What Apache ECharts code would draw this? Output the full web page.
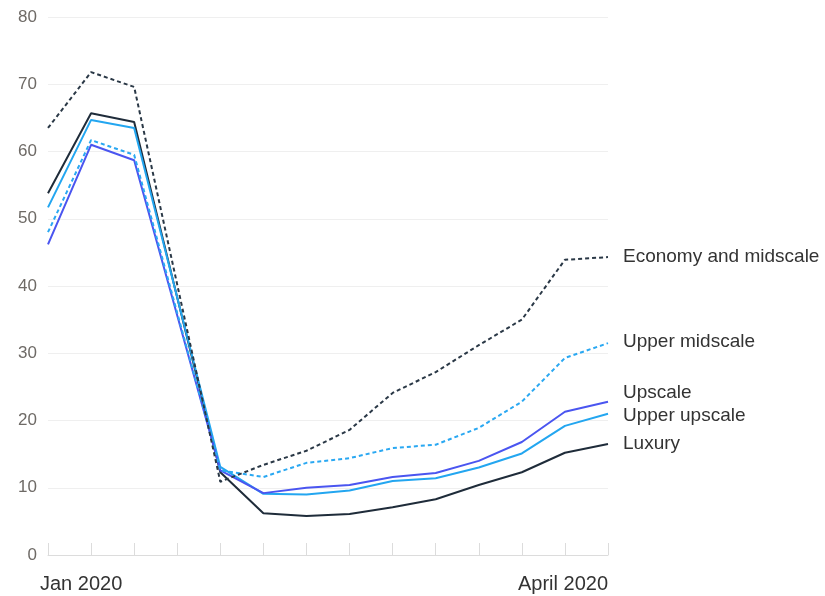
<!DOCTYPE html>
<html>
<head>
<meta charset="utf-8">
<script src="https://cdn.jsdelivr.net/npm/echarts@6/dist/echarts.min.js"></script>
<style>html,body{margin:0;padding:0;background:#fff;}#chart{width:825px;height:596px;}</style>
</head>
<body>
<div id="chart"></div>
<script>
const categories = ['Jan 2020','','','','','','','','','','','','','April 2020'];
const economyMidscale = [63.5, 71.8, 69.6, 40.2, 10.9, 13.4, 15.5, 18.6, 24.1, 27.2, 31.2, 35.0, 43.9, 44.3];
const upperMidscale   = [48.0, 61.7, 59.5, 36.0, 12.6, 11.6, 13.7, 14.4, 15.9, 16.4, 18.9, 22.8, 29.3, 31.5];
const upscale         = [46.2, 61.0, 58.7, 35.6, 12.6,  9.2, 10.0, 10.4, 11.6, 12.2, 14.0, 16.8, 21.3, 22.8];
const upperUpscale    = [51.7, 64.7, 63.5, 38.3, 13.1,  9.1,  9.0,  9.6, 11.0, 11.4, 13.0, 15.1, 19.2, 21.0];
const luxury          = [53.8, 65.7, 64.4, 38.3, 12.3,  6.2,  5.8,  6.1,  7.1,  8.3, 10.4, 12.3, 15.2, 16.5];
const yTicks = [0, 10, 20, 30, 40, 50, 60, 70, 80];

const FONT = 'Liberation Sans, Arial, sans-serif';
function mk(name, data, color, dashed, labelOffset) {
  return {
    name: name, type: 'line', data: data, showSymbol: false, symbol: 'none',
    lineStyle: { color: color, width: 2, type: dashed ? [4, 3] : 'solid' },
    itemStyle: { color: color },
    endLabel: {
      show: true, formatter: '{a}', distance: 15, offset: labelOffset,
      color: '#333', fontSize: 19, fontFamily: FONT
    },
    emphasis: { disabled: true }
  };
}
const chart = echarts.init(document.getElementById('chart'), null, { renderer: 'canvas' });
chart.setOption({
  animation: false,
  grid: { left: 48, right: 217, top: 17, bottom: 41, containLabel: false },
  xAxis: {
    type: 'category', data: categories, boundaryGap: false,
    axisLine: { lineStyle: { color: '#dcdcdc', width: 1 } },
    axisTick: { show: true, inside: true, length: 12, interval: 0, lineStyle: { color: '#dcdcdc' } },
    axisLabel: { interval: 0, margin: 19, color: '#333', fontSize: 20, fontFamily: FONT,
      alignMinLabel: 'left', alignMaxLabel: 'right', padding: [0, 0, 0, -8] },
    splitLine: { show: false }
  },
  yAxis: {
    type: 'value', min: yTicks[0], max: yTicks[yTicks.length - 1], interval: 10,
    axisLine: { show: false }, axisTick: { show: false },
    axisLabel: { color: '#6e6a66', fontSize: 17, fontFamily: FONT, margin: 11 },
    splitLine: { lineStyle: { color: '#efefef', width: 1 } }
  },
  series: [
    mk('Luxury', luxury, '#1f2c3a', false, [0, 0]),
    mk('Upper upscale', upperUpscale, '#23a6f0', false, [0, 2]),
    mk('Upscale', upscale, '#4a55f0', false, [0, -9]),
    mk('Upper midscale', upperMidscale, '#2aa8f2', true, [0, -1]),
    mk('Economy and midscale', economyMidscale, '#2a3846', true, [0, 0])
  ]
});
</script>
</body>
</html>
